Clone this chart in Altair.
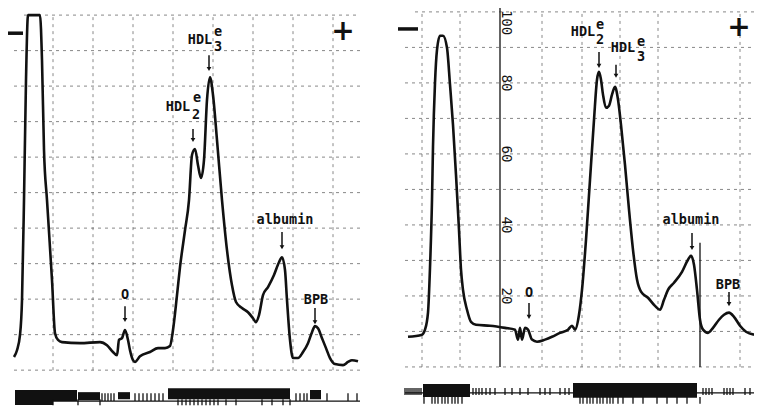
import altair as alt
import pandas as pd

# ---------------- data ----------------
# Left densitometer scan: scan position and absorbance (% of full scale)
left_pos = [14, 17, 20, 22, 24, 26, 28, 40, 42, 44, 47, 52, 55, 58, 62, 80, 100, 107, 113, 117,
            119, 122, 125, 128, 130, 133, 135, 140, 150, 158, 165, 170, 173, 177, 180, 185, 189,
            192, 195, 198, 201, 204, 207, 210, 213, 217, 222, 227, 232, 236, 242, 248, 253, 256,
            259, 263, 268, 274, 279, 282, 285, 287, 290, 293, 298, 303, 308, 312, 315, 318, 322,
            326, 330, 335, 343, 348, 352, 358]
left_abs = [3.7, 5.6, 9.9, 19.7, 47.9, 81.7, 100, 100, 87.3, 62.0, 47.9, 25.4, 10.4, 8.5, 7.9, 7.6,
            7.9, 7.0, 5.1, 4.2, 8.5, 9.0, 11.3, 8.5, 5.6, 2.8, 2.3, 3.9, 5.1, 6.2, 6.2, 6.8, 11.3,
            21.1, 29.0, 39.4, 47.9, 60.6, 62.3, 57.7, 54.1, 59.2, 76.1, 82.5, 77.5, 64.8, 47.9,
            33.8, 23.9, 19.2, 17.5, 16.3, 14.6, 13.5, 15.5, 21.1, 23.4, 26.8, 30.4, 31.8, 28.2,
            19.7, 8.5, 3.4, 3.4, 5.1, 7.6, 10.7, 12.4, 11.8, 9.0, 6.2, 3.4, 1.7, 1.4, 2.3, 2.8, 2.5]

# Right densitometer scan
right_pos = [408, 422, 425, 428, 430, 432, 433, 435, 437, 440, 443, 447, 450, 453, 456, 459, 461,
             463, 467, 471, 476, 490, 505, 515, 518, 520, 522, 525, 528, 532, 537, 545, 552, 560,
             568, 572, 575, 579, 582, 586, 590, 594, 597, 599, 601, 603, 606, 609, 612, 615, 618,
             621, 625, 629, 633, 637, 641, 648, 655, 660, 664, 668, 674, 682, 688, 691, 694, 697,
             700, 703, 708, 713, 719, 724, 729, 734, 740, 746, 754]
right_abs = [8.5, 9.1, 10.5, 15.3, 28.0, 47.0, 62.0, 80.0, 89.3, 93.3, 93.3, 89.9, 79.5, 68.2,
             54.1, 38.6, 27.4, 21.7, 16.1, 12.7, 11.9, 11.6, 11.0, 10.5, 7.7, 11.0, 7.7, 11.0,
             10.5, 7.7, 7.1, 7.7, 8.5, 9.6, 10.5, 11.6, 10.5, 14.7, 21.7, 35.8, 52.7, 69.6, 80.9,
             83.1, 80.9, 76.7, 73.0, 73.6, 76.7, 78.9, 75.3, 68.2, 56.9, 44.3, 33.0, 24.6, 21.2,
             19.5, 17.2, 16.1, 18.9, 21.7, 23.7, 26.8, 30.2, 31.3, 28.8, 21.7, 13.3, 10.5, 9.6,
             11.0, 13.3, 14.7, 15.3, 14.1, 11.6, 9.9, 9.1]

# Grid of the chart paper
grid_levels = [10, 20, 30, 40, 50, 60, 70, 80, 90]
left_grid_x = [53, 93, 133, 173, 213, 253, 293, 333]
right_grid_x = [422, 460, 542, 582, 620, 658, 740]
right_axis_labels = ["20", "40", "60", "80", "100"]
right_axis_values = [20, 40, 60, 80, 97]

# Peak labels: main text, superscript, subscript, arrow
left_labels = ["HDL", "HDL", "O", "albumin", "BPB"]
left_label_x = [200, 178, 125, 285, 316]
left_label_y = [93.0, 74.1, 21.1, 42.3, 19.7]
left_sup_x = [218, 197]
left_sup_y = [95.2, 76.6]
left_sub = ["3", "2"]
left_sub_x = [218, 196]
left_sub_y = [91.0, 71.8]
left_arrow_x = [209, 193, 125, 282, 315]
left_arrow_top = [88.7, 67.9, 18.0, 38.9, 17.5]
left_arrow_tip = [84.8, 64.8, 14.1, 34.6, 13.5]

right_labels = ["HDL", "HDL", "O", "albumin", "BPB"]
right_label_x = [583, 623, 529, 691, 728]
right_label_y = [94.4, 89.9, 20.8, 41.4, 23.1]
right_sup_x = [600, 641]
right_sup_y = [96.3, 91.5]
right_sub = ["2", "3"]
right_sub_x = [600, 641]
right_sub_y = [92.1, 87.3]
right_arrow_x = [599, 616, 529, 692, 729]
right_arrow_top = [88.7, 85.1, 18.0, 37.7, 21.1]
right_arrow_tip = [84.8, 82.0, 14.1, 33.5, 17.7]

# Electrode signs
left_minus = (8, 23, 94.9)
left_plus = (343, 95.2)
right_minus = (398, 418, 95.2)
right_plus = (739, 95.6)

# Stained strip under each scan: dense blocks and individual bands
left_blk_x1 = [15, 15, 78, 118, 168, 310]
left_blk_x2 = [77, 53, 100, 130, 290, 321]
left_blk_top = [-5.6, -8.7, -6.2, -6.2, -5.1, -5.6]
left_blk_bot = [-8.7, -9.8, -8.5, -8.2, -8.2, -8.2]
left_band_up = [102, 105, 108, 111, 114, 135, 139, 143, 147, 151, 155, 159, 163,
                296, 300, 304, 307, 327, 348, 357]
left_band_down = [53, 78, 100, 178, 182, 186, 190, 194, 198, 202, 206, 210, 214, 218,
                  226, 236, 262, 272, 283, 290]

right_blk_x1 = [423, 573]
right_blk_x2 = [470, 697]
right_blk_top = [-4.8, -4.5]
right_blk_bot = [-8.5, -8.7]
right_band_up = [405, 407, 409, 411, 413, 415, 417, 419, 421, 473, 476, 479, 482, 486, 490,
                 495, 505, 512, 520, 528, 540, 545, 550, 560, 565, 569, 703, 706, 709, 712,
                 724, 727, 730, 733, 745, 750]
right_band_down = [424, 432, 435, 438, 442, 445, 448, 452, 455, 458, 462, 580, 583, 587, 590,
                   593, 597, 600, 603, 607, 610, 613, 618, 623, 633, 643, 657, 667, 677, 687, 700]

# ---------------- chart building ----------------
INK = "#111111"
GRID = "#555555"
FONT = "DejaVu Sans Mono"


def panel(pos, ab, xdom, ydom, width, height, grid_x, grid_x_from, grid_x_to,
          solid_v, labels, lx, ly, sx, sy, subs, bx, by, ax, atop, atip,
          minus, plus, blk, band_up, band_down, up_rng, down_rng, base, axis_lab=None):
    X = lambda f: alt.X(f, type="quantitative", scale=alt.Scale(domain=xdom, nice=False, zero=False), axis=None)
    Y = lambda f: alt.Y(f, type="quantitative", scale=alt.Scale(domain=ydom, nice=False, zero=False), axis=None)

    layers = []
    # horizontal grid
    gh = pd.DataFrame({"y": grid_levels + [100, 0],
                       "x1": [grid_x_from] * len(grid_levels) + [grid_x_from + 10, grid_x_from],
                       "x2": [grid_x_to] * (len(grid_levels) + 2)})
    layers.append(alt.Chart(gh).mark_rule(color=GRID, strokeDash=[3, 4], strokeWidth=1, opacity=0.7, clip=True)
                  .encode(x=X("x1"), x2="x2", y=Y("y")))
    gv = pd.DataFrame({"x": grid_x, "y1": [0] * len(grid_x), "y2": [100] * len(grid_x)})
    layers.append(alt.Chart(gv).mark_rule(color=GRID, strokeDash=[3, 4], strokeWidth=1, opacity=0.7, clip=True)
                  .encode(x=X("x"), y=Y("y1"), y2="y2"))
    if solid_v is not None:
        sv = pd.DataFrame(solid_v)
        layers.append(alt.Chart(sv).mark_rule(color=INK, strokeWidth=1.3, clip=True)
                      .encode(x=X("x"), y=Y("y1"), y2="y2"))
    if axis_lab is not None:
        al = pd.DataFrame(axis_lab)
        layers.append(alt.Chart(al).mark_text(font=FONT, fontSize=14, angle=90, color=INK,
                                              align="center", baseline="middle", clip=True)
                      .encode(x=X("x"), y=Y("y"), text="t:N"))
    # trace
    tr = pd.DataFrame({"pos": pos, "abs": ab})
    layers.append(alt.Chart(tr).mark_line(color=INK, strokeWidth=2.6, interpolate="monotone",
                                          strokeJoin="round", clip=True)
                  .encode(x=X("pos"), y=Y("abs"), order="pos:Q"))
    # labels
    lab = pd.DataFrame({"t": labels, "x": lx, "y": ly})
    layers.append(alt.Chart(lab).mark_text(font=FONT, fontSize=13.5, fontWeight="bold", color=INK, clip=True)
                  .encode(x=X("x"), y=Y("y"), text="t:N"))
    sup = pd.DataFrame({"t": ["e"] * len(sx), "x": sx, "y": sy})
    layers.append(alt.Chart(sup).mark_text(font=FONT, fontSize=13.5, fontWeight="bold", color=INK, clip=True)
                  .encode(x=X("x"), y=Y("y"), text="t:N"))
    sub = pd.DataFrame({"t": subs, "x": bx, "y": by})
    layers.append(alt.Chart(sub).mark_text(font=FONT, fontSize=13.5, fontWeight="bold", color=INK, clip=True)
                  .encode(x=X("x"), y=Y("y"), text="t:N"))
    arr = pd.DataFrame({"x": ax, "y1": atop, "y2": atip})
    layers.append(alt.Chart(arr).mark_rule(color=INK, strokeWidth=1.5, clip=True)
                  .encode(x=X("x"), y=Y("y1"), y2="y2"))
    layers.append(alt.Chart(arr).mark_point(shape="triangle-down", filled=True, color=INK,
                                            size=22, opacity=1, clip=True)
                  .encode(x=X("x"), y=Y("y2")))
    # electrode signs
    mn = pd.DataFrame({"x1": [minus[0]], "x2": [minus[1]], "y": [minus[2]]})
    layers.append(alt.Chart(mn).mark_rule(color=INK, strokeWidth=3.5, clip=True)
                  .encode(x=X("x1"), x2="x2", y=Y("y")))
    pl = pd.DataFrame({"x": [plus[0]], "y": [plus[1]], "t": ["+"]})
    layers.append(alt.Chart(pl).mark_text(font="DejaVu Sans", fontSize=28, fontWeight="bold",
                                          color=INK, baseline="middle", clip=True)
                  .encode(x=X("x"), y=Y("y"), text="t:N"))
    # stained strip
    bl = pd.DataFrame({"x1": [base[0]], "x2": [base[1]], "y": [base[2]]})
    layers.append(alt.Chart(bl).mark_rule(color=INK, strokeWidth=1.2, clip=True)
                  .encode(x=X("x1"), x2="x2", y=Y("y")))
    bk = pd.DataFrame({"x1": blk[0], "x2": blk[1], "y1": blk[2], "y2": blk[3]})
    layers.append(alt.Chart(bk).mark_rect(color=INK, clip=True)
                  .encode(x=X("x1"), x2="x2", y=Y("y1"), y2="y2"))
    bu = pd.DataFrame({"x": band_up, "y1": [up_rng[0]] * len(band_up), "y2": [up_rng[1]] * len(band_up)})
    layers.append(alt.Chart(bu).mark_rule(color=INK, strokeWidth=1.3, clip=True)
                  .encode(x=X("x"), y=Y("y1"), y2="y2"))
    bd = pd.DataFrame({"x": band_down, "y1": [down_rng[0]] * len(band_down),
                       "y2": [down_rng[1]] * len(band_down)})
    layers.append(alt.Chart(bd).mark_rule(color=INK, strokeWidth=1.3, clip=True)
                  .encode(x=X("x"), y=Y("y1"), y2="y2"))
    return alt.layer(*layers).properties(width=width, height=height)


left = panel(left_pos, left_abs, [8, 378], [-10.1, 102.0], 370, 398,
             left_grid_x, 14, 360, None,
             left_labels, left_label_x, left_label_y, left_sup_x, left_sup_y,
             left_sub, left_sub_x, left_sub_y,
             left_arrow_x, left_arrow_top, left_arrow_tip,
             left_minus, left_plus,
             (left_blk_x1, left_blk_x2, left_blk_top, left_blk_bot),
             left_band_up, left_band_down, (-6.5, -8.7), (-8.2, -9.9), (15, 360, -8.7))

right = panel(right_pos, right_abs, [398, 754], [-11.0, 101.1], 356, 398,
              right_grid_x, 405, 754,
              {"x": [500, 700], "y1": [0, 0], "y2": [101.1, 35]},
              right_labels, right_label_x, right_label_y, right_sup_x, right_sup_y,
              right_sub, right_sub_x, right_sub_y,
              right_arrow_x, right_arrow_top, right_arrow_tip,
              right_minus, right_plus,
              (right_blk_x1, right_blk_x2, right_blk_top, right_blk_bot),
              right_band_up, right_band_down, (-5.9, -7.9), (-8.5, -10.4), (405, 754, -7.3),
              axis_lab={"x": [506] * 5, "y": right_axis_values, "t": right_axis_labels})

chart = alt.hconcat(left, right, spacing=20).properties(
    padding=0, background="white"
).configure_view(stroke=None)

chart.save("out.html", embed_options={"renderer": "svg", "actions": False})
